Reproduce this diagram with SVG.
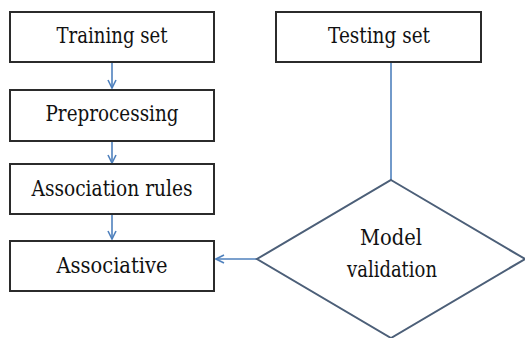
<svg xmlns="http://www.w3.org/2000/svg" width="525" height="338" viewBox="0 0 525 338">
  <style>
    .box { fill: #ffffff; stroke: #2b2b2b; stroke-width: 2; }
    .decision { fill: #ffffff; stroke: #4c5f78; stroke-width: 2; }
    .label { font-family: 'DejaVu Serif', serif; font-size: 22px; fill: #111111; text-anchor: middle; }
    .link { fill: none; stroke: #4f81bd; stroke-width: 1.6; }
  </style>
  <defs>
    <marker id="arrow" viewBox="0 0 10 10" refX="9" refY="5" markerWidth="10" markerHeight="10" markerUnits="userSpaceOnUse" orient="auto">
      <path d="M1,1 L9,5 L1,9" fill="none" stroke="#4f81bd" stroke-width="1.6"/>
    </marker>
  </defs>
  <rect width="525" height="338" fill="#ffffff"/>

  <g id="connectors">
    <line class="link" x1="112" y1="63" x2="112" y2="88" marker-end="url(#arrow)"/>
    <line class="link" x1="112" y1="141" x2="112" y2="163" marker-end="url(#arrow)"/>
    <line class="link" x1="112" y1="214" x2="112" y2="239" marker-end="url(#arrow)"/>
    <line class="link" x1="391" y1="62" x2="391" y2="180"/>
    <line class="link" x1="257" y1="259" x2="216" y2="259" marker-end="url(#arrow)"/>
  </g>

  <g id="training-set">
    <rect class="box" x="10" y="12" width="204" height="50"/>
    <text class="label" x="112" y="43" textLength="111" lengthAdjust="spacingAndGlyphs">Training set</text>
  </g>
  <g id="preprocessing">
    <rect class="box" x="10" y="90" width="204" height="51"/>
    <text class="label" x="112" y="121" textLength="133" lengthAdjust="spacingAndGlyphs">Preprocessing</text>
  </g>
  <g id="association-rules">
    <rect class="box" x="10" y="164" width="204" height="50"/>
    <text class="label" x="112" y="196" textLength="161" lengthAdjust="spacingAndGlyphs">Association rules</text>
  </g>
  <g id="associative">
    <rect class="box" x="10" y="241" width="204" height="50"/>
    <text class="label" x="112" y="273" textLength="111" lengthAdjust="spacingAndGlyphs">Associative</text>
  </g>
  <g id="testing-set">
    <rect class="box" x="276" y="12" width="205" height="50"/>
    <text class="label" x="379" y="43" textLength="102" lengthAdjust="spacingAndGlyphs">Testing set</text>
  </g>
  <g id="model-validation">
    <polygon class="decision" points="391,180 525,259 391,338 257,259"/>
    <text class="label" x="391" y="245" textLength="62" lengthAdjust="spacingAndGlyphs">Model</text>
    <text class="label" x="392" y="277" textLength="90" lengthAdjust="spacingAndGlyphs">validation</text>
  </g>
</svg>
